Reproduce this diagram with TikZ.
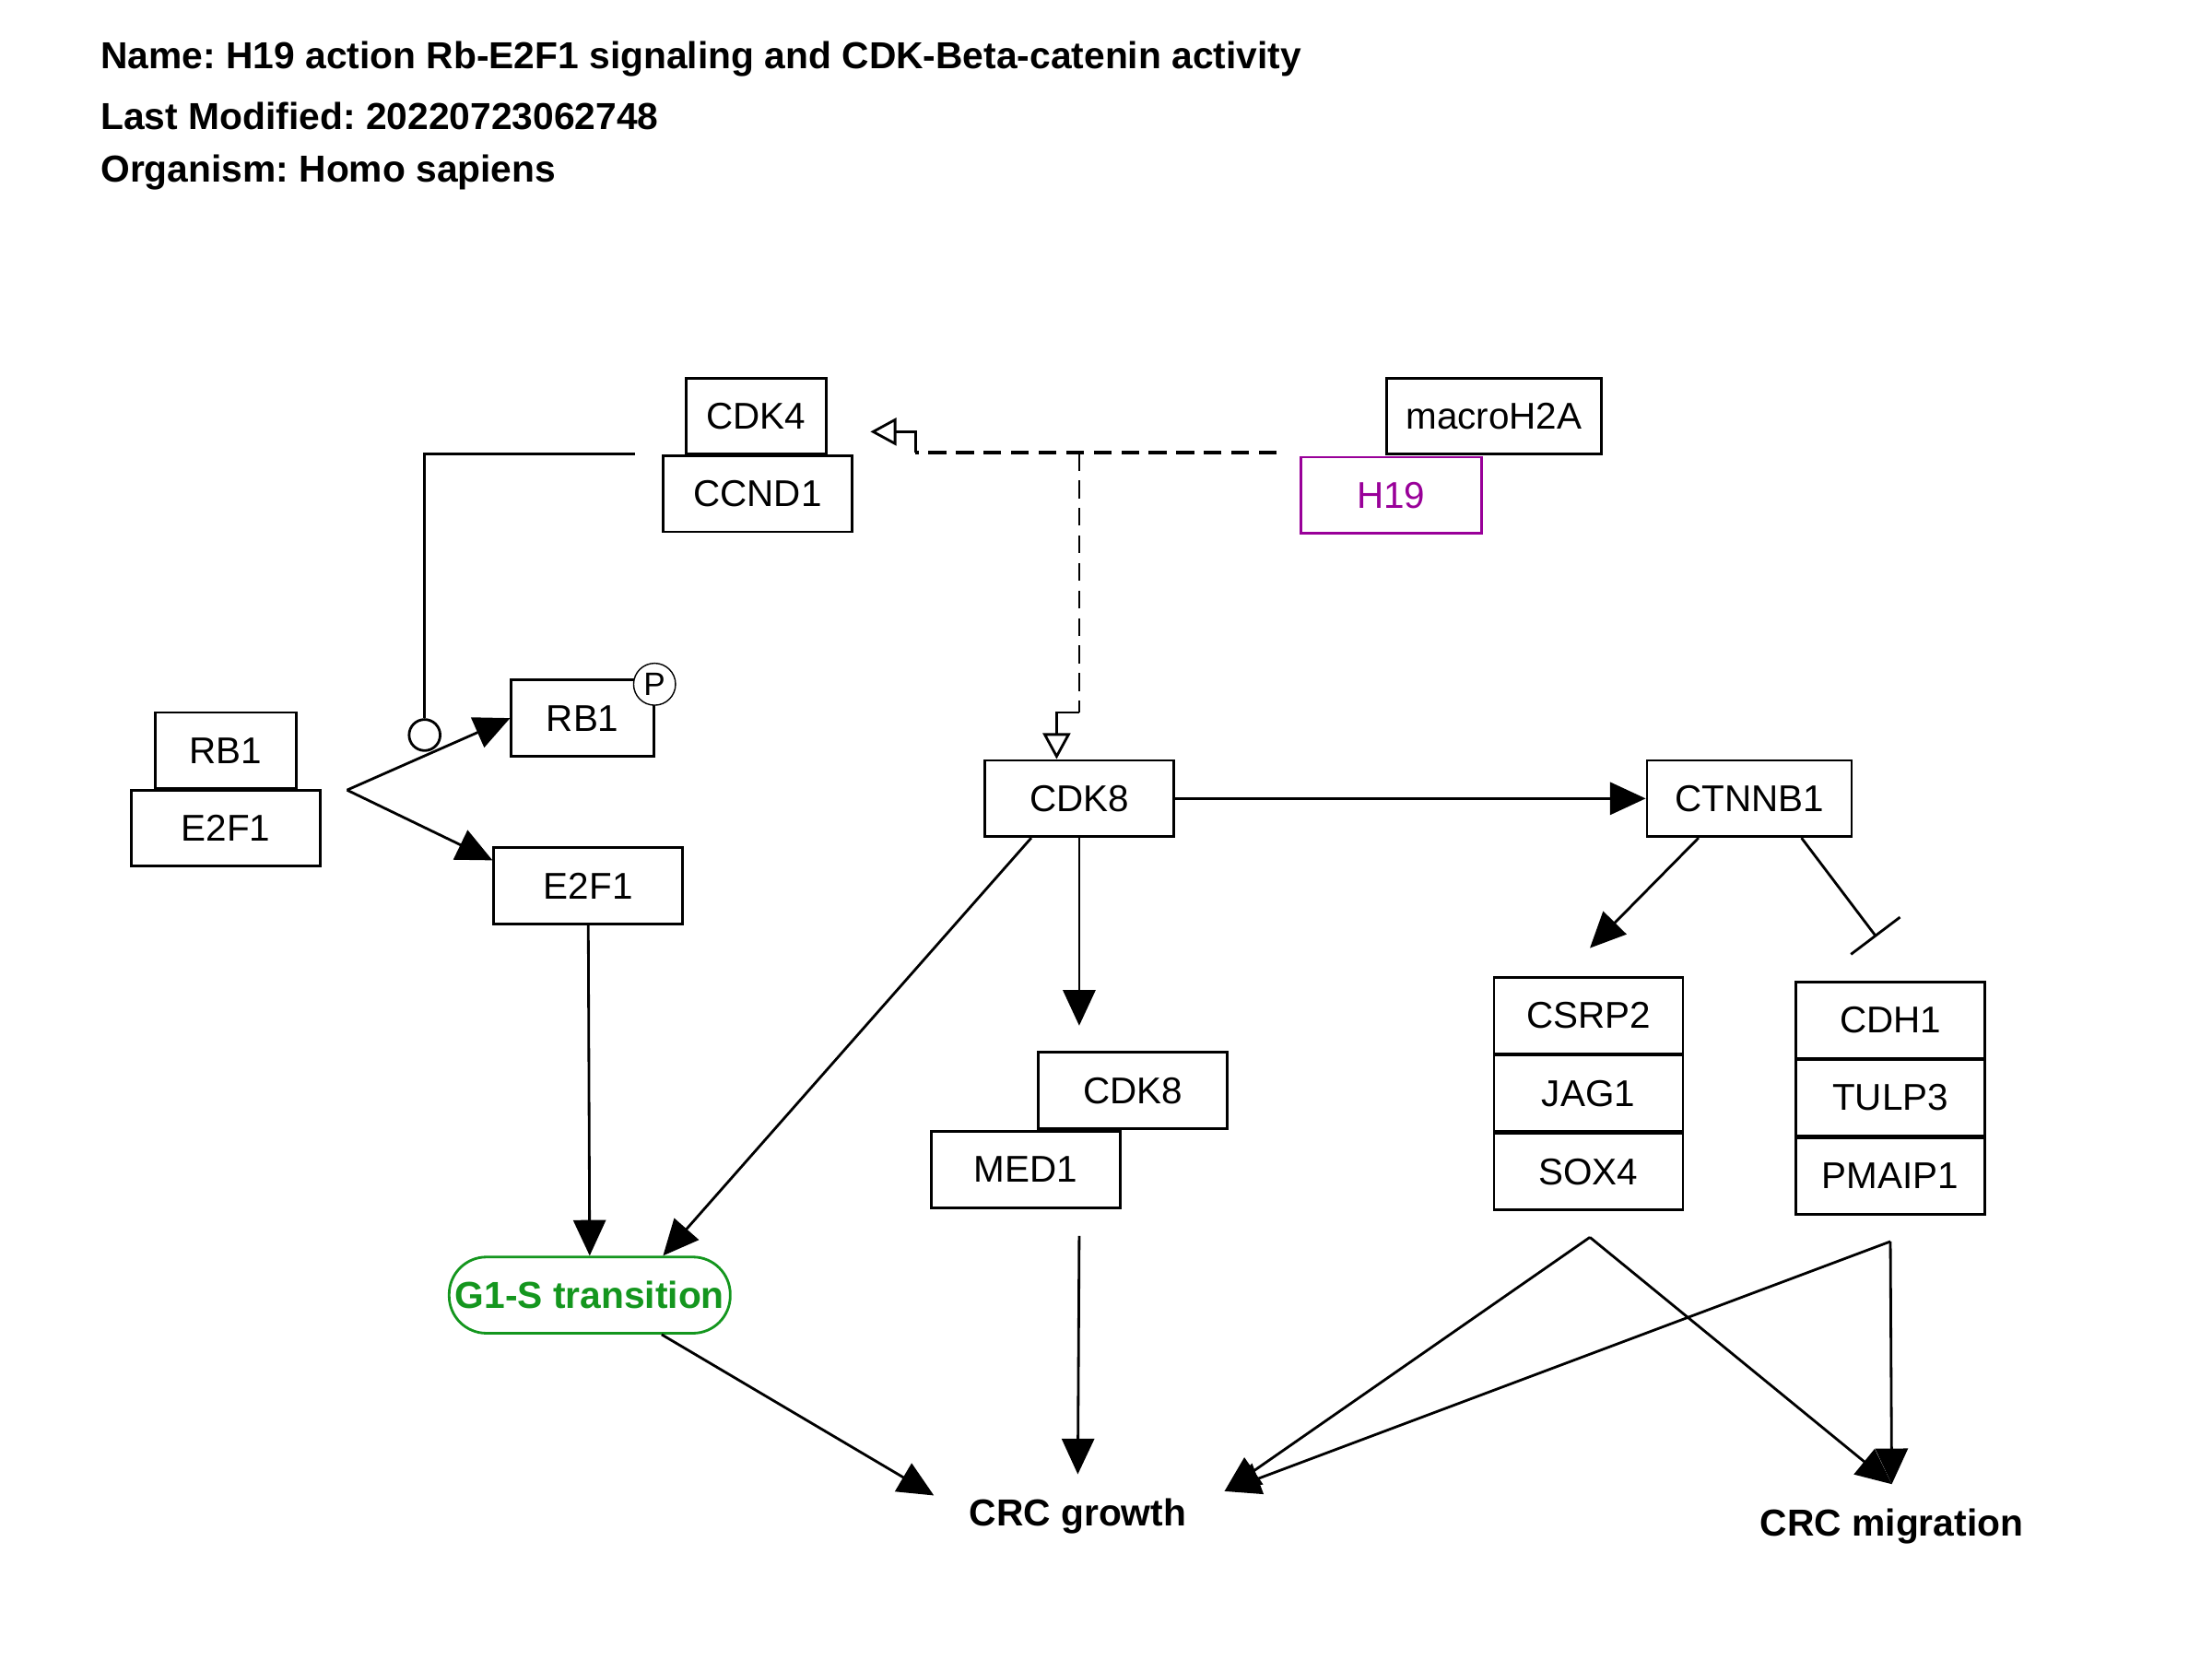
\documentclass[tikz,border=0pt]{standalone}
\usepackage{fontspec}
\setmainfont{Liberation Sans}
\usepackage{xcolor}
\usepackage{tikz}
\usetikzlibrary{arrows.meta}
\usetikzlibrary{calc}
\frenchspacing

\definecolor{hnine}{RGB}{153,0,153}
\definecolor{phasegreen}{RGB}{20,150,30}

\begin{document}
\begin{tikzpicture}[x=0.15306mm,y=-0.15306mm,
        font=\fontsize{11.5}{14}\selectfont,
        gene/.style={draw,line width=0.8pt,minimum width=2.05cm,minimum height=0.827cm,inner sep=0pt},
        rnabox/.style={gene,draw=hnine,text=hnine},
        label/.style={font=\fontsize{11.6}{14}\selectfont\bfseries},
        dashline/.style={line width=0.8pt,dash pattern=on 5.5pt off 3pt},
        arr/.style={line width=0.8pt,-{Triangle[length=11pt,width=10pt]}},
        openarr/.style={line width=0.8pt,-{Triangle[open,length=8pt,width=8.5pt]}},
        inh/.style={line width=0.8pt,-{Bar[width=19pt,line width=0.8pt]}}]
        \useasboundingbox (0,0) rectangle (1568,1176);

        \node[label,anchor=west,inner sep=0pt] (name) at (71,42) {Name: H19 action Rb-E2F1 signaling and CDK-Beta-catenin activity};
        \node[label,anchor=west,inner sep=0pt] (modified) at (71,82) {Last Modified: 20220723062748};
        \node[label,anchor=west,inner sep=0pt] (organism) at (71,122) {Organism: Homo sapiens};

        \node[gene,minimum width=1.515cm] (CDK4) at (536,295) {CDK4};
        \node[gene] (CCND1) at (537,350) {CCND1};
        \node[gene,minimum width=2.33cm] (macroH2A) at (1059,295) {macroH2A};
        \node[rnabox,minimum width=1.96cm] (H19) at (986,351) {H19};

        \node[gene,minimum width=1.53cm] (RBa) at (160,532) {RB1};
        \node[gene] (E2Fa) at (160,587) {E2F1};
        \node[gene,minimum width=1.545cm] (RBp) at (413,509) {RB1};
        \node[draw,circle,fill=white,line width=0.4pt,minimum size=0.455cm,inner sep=0pt,font=\fontsize{10}{12}\selectfont] (phos) at (464,485) {P};
        \node[gene] (E2Fb) at (417,628) {E2F1};

        \node[gene] (CDK8) at (765,566) {CDK8};
        \node[gene,minimum width=2.22cm] (CTNNB1) at (1240,566) {CTNNB1};
        \node[gene] (CDK8b) at (803,773) {CDK8};
        \node[gene] (MED1) at (727,829) {MED1};

        \node[gene] (CSRP2) at (1126,720) {CSRP2};
        \node[gene] (JAG1) at (1126,775) {JAG1};
        \node[gene] (SOX4) at (1126,830.5) {SOX4};
        \node[gene] (CDH1) at (1340,723) {CDH1};
        \node[gene] (TULP3) at (1340,778) {TULP3};
        \node[gene] (PMAIP1) at (1340,833.5) {PMAIP1};

        \node[draw=phasegreen,text=phasegreen,line width=0.8pt,rounded corners=0.405cm,minimum width=3.05cm,minimum height=0.827cm,inner sep=0pt,font=\fontsize{11.6}{14}\selectfont\bfseries] (G1S) at (418,918) {G1-S transition};
        \node[label] (growth) at (764,1075) {CRC growth};
        \node[label] (migration) at (1341,1082) {CRC migration};

        \coordinate (ccndout) at (450,322);
        \coordinate (split) at (246,560);
        \node[draw,circle,fill=white,line width=0.8pt,minimum size=0.337cm,inner sep=0pt] (catc) at (301,521) {};
        \coordinate (hstart) at (905,321);
        \coordinate (kink1) at (649,321);
        \coordinate (cdk4tip) at (617,306);
        \coordinate (hbranch) at (765,321);
        \coordinate (kink2) at (765,505);
        \coordinate (cdk8in) at (765,727);
        \coordinate (csrpin) at (1127,672);
        \coordinate (cdhin) at (1330,664);
        \coordinate (medout) at (765,876);
        \coordinate (soxout) at (1127,877);
        \coordinate (pmaipout) at (1340,880);
        \coordinate (grleft) at (662,1060);
        \coordinate (grmid) at (764,1045);
        \coordinate (grright) at (868,1057);
        \coordinate (migin) at (1341,1052);

        \draw[line width=0.8pt] (ccndout) -| (catc.north);
        \draw[arr] (split) -- (RBp.west);
        \draw[arr] (split) -- (E2Fb.165);

        \draw[dashline,line width=1.1pt] (hstart) -- (kink1);
        \draw[openarr] (kink1) |- (cdk4tip);
        \draw[dashline] (hbranch) -- (kink2);
        \draw[openarr] (kink2) -| ($(CDK8.north)+(-16,0)$);

        \draw[arr] (CDK8.east) -- (CTNNB1.west);
        \draw[arr] ($(CDK8.south)+(-34,0)$) -- ($(G1S.north)+(52,0)$);
        \draw[arr] (CDK8.south) -- (cdk8in);
        \draw[arr] (E2Fb.south) -- (G1S.north);
        \draw[arr] ($(CTNNB1.south)+(-36,0)$) -- (csrpin);
        \draw[inh] ($(CTNNB1.south)+(37,0)$) -- (cdhin);

        \draw[arr] ($(G1S.south)+(51,0)$) -- (grleft);
        \draw[arr] (medout) -- (grmid);
        \draw[arr] (soxout) -- (grright);
        \draw[arr] (soxout) -- (migin);
        \draw[arr] (pmaipout) -- (grright);
        \draw[arr] (pmaipout) -- (migin);
\end{tikzpicture}
\end{document}
